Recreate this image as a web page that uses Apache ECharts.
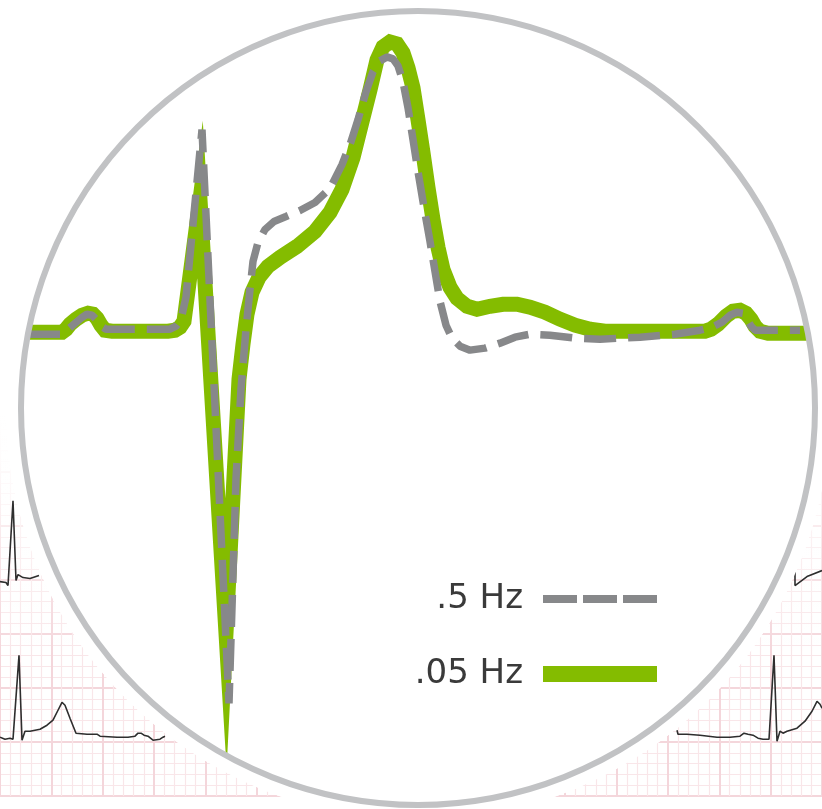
<!DOCTYPE html>
<html>
<head>
<meta charset="utf-8">
<script src="https://cdn.jsdelivr.net/npm/echarts@6/dist/echarts.min.js"></script>
<style>
html,body{margin:0;padding:0;background:#fff;}
#chart{width:822px;height:809px;}
</style>
</head>
<body>
<div id="chart"></div>
<script>
// ---- Data (time in ms, amplitude in µV) ----
// .05 Hz filtered beat (solid green)
const t05 = [27,62,66,70,76,82,88,93,97,101,105,112,168,175,180,184,200,226,239,243,247,252,259,268,280,297,315,330,342,353,362,370,377,383,390,397,403,408,413,418,423,428,433,438,443,450,457,467,477,490,503,517,530,545,560,575,590,605,705,711,718,726,733,740,746,751,755,760,768,807];
const v05 = [-10,-10,5,30,55,75,85,80,60,25,0,-5,-5,0,15,45,655,-1520,-245,-70,80,190,265,320,365,420,495,590,705,865,1045,1205,1355,1420,1445,1435,1390,1315,1215,1055,890,715,555,415,305,215,160,120,105,120,130,130,115,90,55,25,5,-5,-5,5,30,70,95,100,85,55,20,-5,-15,-15];
// .5 Hz filtered beat (dashed grey)
const t5 = [28,62,67,74,81,87,92,97,101,106,170,176,181,186,202,229,236,241,246,250,253,258,265,274,286,300,315,330,342,351,358,366,373,380,387,393,398,403,408,413,418,424,430,435,440,446,452,460,470,485,500,515,530,550,575,600,640,675,700,712,722,730,737,743,747,751,755,800];
const v5 = [-20,-20,0,30,60,80,75,50,20,5,5,20,55,165,1005,-1870,-745,-295,5,205,345,440,505,545,570,600,640,710,830,945,1055,1195,1295,1350,1370,1360,1325,1245,1115,955,795,615,445,295,145,25,-40,-80,-100,-90,-65,-35,-20,-25,-40,-45,-35,-20,0,15,40,75,90,85,55,20,0,0];
// background ECG strips in the corners
const stripAT = [0,6,8,13,16,18,20,23,30,39];
const stripAV = [-1260,-1265,-1280,-855,-1255,-1225,-1225,-1240,-1245,-1230];
const stripBT = [0,5,10,13,15,19,22,23,25,27,30,40,47,53,58,62,65,70,76,87,97,100,117,128,135,138,141,144,148,153,160,163,165];
const stripBV = [-2040,-2050,-2045,-2050,-2040,-1630,-2055,-2065,-2010,-2015,-2010,-2000,-1980,-1955,-1905,-1865,-1880,-1945,-2020,-2025,-2025,-2035,-2040,-2040,-2035,-2020,-2020,-2030,-2035,-2055,-2050,-2040,-2035];
const stripCT = [795,795,797,807,822];
const stripCV = [-1210,-1280,-1270,-1235,-1205];
const stripDT = [677,678,687,700,717,730,740,744,748,753,758,763,769,774,777,780,783,787,797,805,812,817,820,822];
const stripDV = [-2005,-2025,-2025,-2030,-2040,-2040,-2035,-2020,-2025,-2030,-2045,-2050,-2050,-1630,-2060,-2010,-2020,-2010,-1995,-1960,-1910,-1860,-1875,-1895];
const legendNames = ['.5 Hz', '.05 Hz'];

const zip = (a, b) => a.map((x, i) => [x, b[i]]);

const GREEN = '#84bc00';
const GREY = '#87888a';
const FONT = 'DejaVu Sans';
const CX = 418, CY = 408, R = 397;

const chart = echarts.init(document.getElementById('chart'), null, {renderer: 'canvas'});

const stripSeries = [[stripAT, stripAV], [stripBT, stripBV], [stripCT, stripCV], [stripDT, stripDV]].map((s, i) => ({
  name: 'strip' + i,
  type: 'line',
  xAxisIndex: 0, yAxisIndex: 0,
  data: zip(s[0], s[1]),
  symbol: 'none', showSymbol: false, silent: true,
  lineStyle: {color: '#2e2e2e', width: 1.6},
  z: 2
}));

const option = {
  animation: false,
  grid: [
    {left: 0, top: 11, width: 822, height: 800},
    {left: -16, top: 418, width: 864, height: 378}
  ],
  xAxis: [
    {type: 'value', gridIndex: 0, min: 0, max: 822, show: false},
    {type: 'value', gridIndex: 1, min: 0, max: 80, interval: 5,
     axisLine: {show: false}, axisTick: {show: false}, axisLabel: {show: false},
     minorTick: {show: false, splitNumber: 5},
     splitLine: {show: true, lineStyle: {color: '#f4d6db', width: 2}},
     minorSplitLine: {show: true, lineStyle: {color: '#f9e6e9', width: 1.2}}}
  ],
  yAxis: [
    {type: 'value', gridIndex: 0, min: -2400, max: 1600, show: false},
    {type: 'value', gridIndex: 1, min: 0, max: 35, interval: 5,
     axisLine: {show: false}, axisTick: {show: false}, axisLabel: {show: false},
     minorTick: {show: false, splitNumber: 5},
     splitLine: {show: true, lineStyle: {color: '#f4d6db', width: 2}},
     minorSplitLine: {show: true, lineStyle: {color: '#f9e6e9', width: 1.2}}}
  ],
  legend: [
    {
      data: [{name: legendNames[0], icon: 'path://M0,0h34v8h-34z M40,0h34v8h-34z M80,0h34v8h-34z'}],
      right: 165, top: 582, padding: 0,
      itemWidth: 114, itemHeight: 8, align: 'right', selectedMode: false,
      itemStyle: {color: GREY},
      textStyle: {fontFamily: FONT, fontSize: 34, color: '#3a3a3a', padding: [0, 15, 8, 0]}
    },
    {
      data: [{name: legendNames[1], icon: 'rect'}],
      right: 165, top: 657, padding: 0,
      itemWidth: 114, itemHeight: 16, align: 'right', selectedMode: false,
      itemStyle: {color: GREEN},
      textStyle: {fontFamily: FONT, fontSize: 34, color: '#3a3a3a', padding: [0, 15, 12, 0]}
    }
  ],
  graphic: [
    {type: 'rect', z: 1, silent: true,
     shape: {x: 0, y: 416, width: 822, height: 240},
     style: {fill: {type: 'linear', x: 0, y: 0, x2: 0, y2: 1, colorStops: [
       {offset: 0, color: 'rgba(255,255,255,1)'},
       {offset: 0.18, color: 'rgba(255,255,255,0.92)'},
       {offset: 0.55, color: 'rgba(255,255,255,0.4)'},
       {offset: 1, color: 'rgba(255,255,255,0)'}]}}},
    {type: 'circle', z: 1, silent: true, shape: {cx: CX, cy: CY, r: R + 15}, style: {fill: '#ffffff'}},
    {type: 'ring', z: 8, silent: true, shape: {cx: CX, cy: CY, r: R + 15, r0: R + 2}, style: {fill: '#ffffff'}},
    {type: 'circle', z: 9, silent: true, shape: {cx: CX, cy: CY, r: R}, style: {fill: 'none', stroke: '#c1c2c4', lineWidth: 6}}
  ],
  series: stripSeries.concat([
    {
      name: legendNames[1], type: 'line', xAxisIndex: 0, yAxisIndex: 0,
      data: zip(t05, v05), symbol: 'none', showSymbol: false, silent: true,
      lineStyle: {color: GREEN, width: 15, join: 'miter', miterLimit: 30, cap: 'butt'},
      itemStyle: {color: GREEN},
      z: 3
    },
    {
      name: legendNames[0], type: 'line', xAxisIndex: 0, yAxisIndex: 0,
      data: zip(t5, v5), symbol: 'none', showSymbol: false, silent: true,
      lineStyle: {color: GREY, width: 7.5, type: [32, 12], join: 'bevel', cap: 'butt'},
      itemStyle: {color: GREY},
      z: 4
    }
  ])
};
chart.setOption(option);
</script>
</body>
</html>
